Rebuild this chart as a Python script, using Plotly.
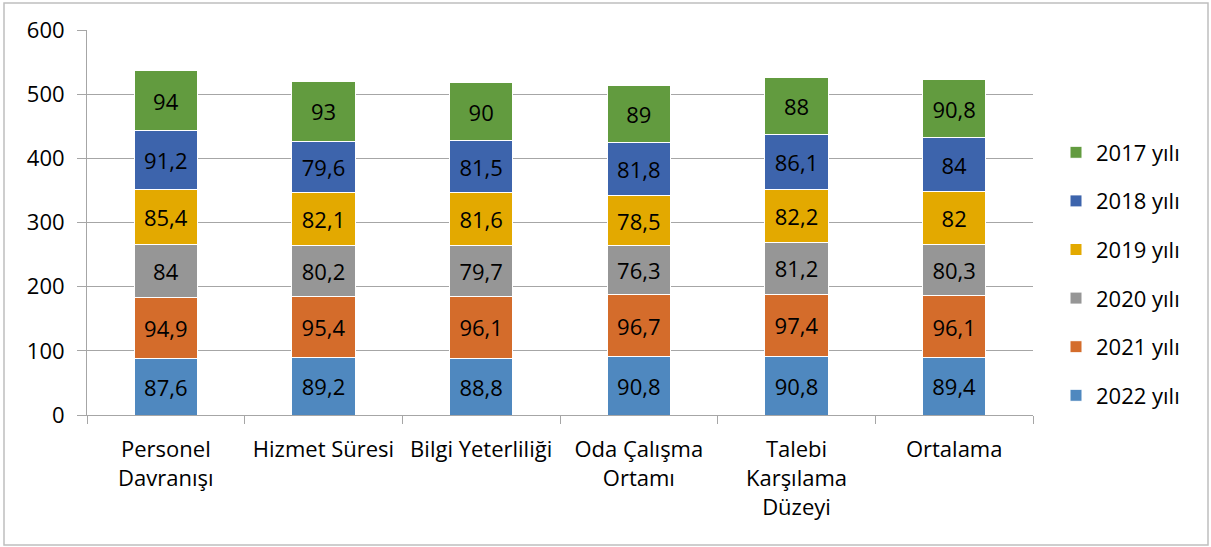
import plotly.graph_objects as go

categories = ["Personel<br>Davranışı", "Hizmet Süresi", "Bilgi Yeterliliği",
              "Oda Çalışma<br>Ortamı", "Talebi<br>Karşılama<br>Düzeyi", "Ortalama"]

series_names = ["2022 yılı", "2021 yılı", "2020 yılı", "2019 yılı", "2018 yılı", "2017 yılı"]
v2022 = [87.6, 89.2, 88.8, 90.8, 90.8, 89.4]
v2021 = [94.9, 95.4, 96.1, 96.7, 97.4, 96.1]
v2020 = [84, 80.2, 79.7, 76.3, 81.2, 80.3]
v2019 = [85.4, 82.1, 81.6, 78.5, 82.2, 82]
v2018 = [91.2, 79.6, 81.5, 81.8, 86.1, 84]
v2017 = [94, 93, 90, 89, 88, 90.8]
series_values = [v2022, v2021, v2020, v2019, v2018, v2017]
colors = ["#4F88BF", "#D46C2B", "#969696", "#E3A900", "#3D64AC", "#629B3F"]

FONT = "Open Sans"
FS = 22

def fmt(v):
    s = ("%g" % v)
    return s.replace(".", ",")

fig = go.Figure()
n = len(series_names)
for i, (name, vals, col) in enumerate(zip(series_names, series_values, colors)):
    fig.add_trace(go.Bar(
        x=categories, y=vals, name=name, legendgroup=name,
        legendrank=n - i,
        marker=dict(color=col, line=dict(color="white", width=1)),
        text=[fmt(v) for v in vals], textposition="inside",
        insidetextanchor="middle",
        textfont=dict(family=FONT, size=FS, color="black"),
        width=0.4,
    ))

W0, W1 = 87, 1033
T0, B0 = 30, 415
pw = W1 - W0
ph = B0 - T0

def px_x(px):
    return (px - W0) / pw

def px_y(py):
    return (B0 - py) / ph

fig.update_layout(
    barmode="stack",
    width=1211, height=547,
    margin=dict(l=W0, r=1211 - W1, t=T0, b=547 - B0, pad=0),
    paper_bgcolor="white", plot_bgcolor="white",
    font=dict(family=FONT, size=FS, color="black"),
    showlegend=True,
    legend=dict(
        traceorder="grouped", tracegroupgap=17,
        x=px_x(1056), xanchor="left", y=px_y(274), yanchor="middle",
        font=dict(family=FONT, size=FS, color="black"),
        itemwidth=30,
    ),
    uniformtext=dict(mode=False),
    xaxis=dict(
        showline=True, linecolor="#A6A6A6", linewidth=1,
        ticks="outside", ticklen=8, tickcolor="#A6A6A6",
        tickson="boundaries", tickfont=dict(family=FONT, size=FS),
        showgrid=False, ticklabelstandoff=15,
    ),
    yaxis=dict(
        range=[0, 600], dtick=100, tick0=0,
        showline=True, linecolor="#A6A6A6", linewidth=1,
        ticks="outside", ticklen=9, tickcolor="#A6A6A6",
        showgrid=True, gridcolor="#A6A6A6", gridwidth=1,
        zeroline=False, tickfont=dict(family=FONT, size=FS),
        ticklabelstandoff=8,
    ),
    shapes=[dict(type="rect", xref="paper", yref="paper",
                 x0=px_x(4), x1=px_x(1208), y0=px_y(545), y1=px_y(3),
                 line=dict(color="#BFBFBF", width=1.5), fillcolor="rgba(0,0,0,0)",
                 layer="below")],
)

fig.write_html("out.html", config={"displayModeBar": False},
               post_script="document.body.style.margin='0';document.body.style.overflow='hidden';")
